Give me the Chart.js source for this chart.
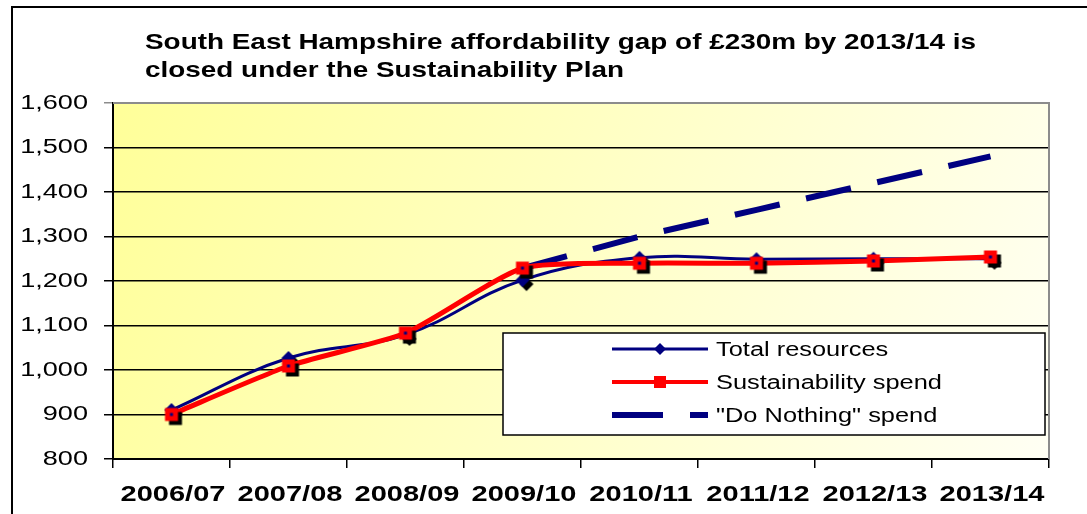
<!DOCTYPE html>
<html>
<head>
<meta charset="utf-8">
<script src="https://cdn.jsdelivr.net/npm/chart.js@4/dist/chart.umd.min.js"></script>
<style>
  html, body { margin: 0; padding: 0; background: #fff; }
  #wrap { width: 1087px; height: 514px; }
</style>
</head>
<body>
<div id="wrap"><canvas id="chart" width="1087" height="514"></canvas></div>
<script>
const years = ['2006/07', '2007/08', '2008/09', '2009/10', '2010/11', '2011/12', '2012/13', '2013/14'];
const totalResources = [910, 1027, 1079, 1202, 1252, 1249, 1250, 1250];
const sustainabilitySpend = [900, 1009, 1083, 1229, 1240, 1240, 1245, 1254];
const doNothingSpend = [null, null, null, 1229, 1300, 1360, 1420, 1480];
const yTicks = [800, 900, 1000, 1100, 1200, 1300, 1400, 1500, 1600];
const titleLines = [
  'South East Hampshire affordability gap of \u00a3230m by 2013/14 is',
  'closed under the Sustainability Plan'
];
const seriesNames = ['Total resources', 'Sustainability spend', '"Do Nothing" spend'];

const NAVY = '#000080';
const RED = '#ff0000';
const FONT = '"Liberation Sans", Arial, sans-serif';

// the original text is drawn wide, so the font gets stretched sideways
function wideText(ctx, text, x, y, sx, align) {
  ctx.save();
  ctx.translate(x, y);
  ctx.scale(sx, 1);
  ctx.textAlign = align;
  ctx.fillText(text, 0, 0);
  ctx.restore();
}

// marker pictures with the Excel-style drop shadow baked in
function marker(kind) {
  const c = document.createElement('canvas');
  c.width = 32; c.height = 32;
  const g = c.getContext('2d');
  const shape = (cx, cy, fill) => {
    g.fillStyle = fill;
    g.beginPath();
    if (kind === 'diamond') {
      g.moveTo(cx, cy - 7); g.lineTo(cx + 7, cy); g.lineTo(cx, cy + 7); g.lineTo(cx - 7, cy);
    } else {
      g.rect(cx - 6.5, cy - 6.5, 13, 13);
    }
    g.closePath();
    g.fill();
  };
  shape(20, 20, '#000');
  shape(16, 16, kind === 'diamond' ? NAVY : RED);
  if (kind === 'square') {
    g.fillStyle = NAVY;
    g.fillRect(14.5, 14.5, 3, 3);
  }
  return c;
}
const diamondImg = marker('diamond');
const squareImg = marker('square');

const decorPlugin = {
  id: 'decor',
  beforeDraw(chart) {
    const { ctx, chartArea: a } = chart;
    ctx.save();
    ctx.fillStyle = '#fff';
    ctx.fillRect(0, 0, chart.width, chart.height);
    const grad = ctx.createLinearGradient(a.left, a.top, a.right, a.bottom);
    grad.addColorStop(0, '#ffff99');
    grad.addColorStop(1, '#fffff4');
    ctx.fillStyle = grad;
    ctx.fillRect(a.left, a.top, a.right - a.left, a.bottom - a.top);
    // outer frame
    ctx.strokeStyle = '#000';
    ctx.lineWidth = 2;
    ctx.beginPath();
    ctx.moveTo(1087, 7);
    ctx.lineTo(12, 7);
    ctx.lineTo(12, 514);
    ctx.stroke();
    // title
    ctx.fillStyle = '#000';
    ctx.font = 'bold 22px ' + FONT;
    ctx.textBaseline = 'alphabetic';
    titleLines.forEach((t, i) => wideText(ctx, t, 145, 49 + i * 28, 1.268, 'left'));
    ctx.restore();
  },
  beforeDatasetsDraw(chart) {
    const { ctx, chartArea: a } = chart;
    ctx.save();
    ctx.strokeStyle = '#8c8c8c';
    ctx.lineWidth = 2;
    ctx.beginPath();
    ctx.moveTo(a.left, a.top);
    ctx.lineTo(a.right, a.top);
    ctx.lineTo(a.right, a.bottom);
    ctx.stroke();
    ctx.restore();
  },
  afterDraw(chart) {
    const { ctx } = chart;
    const xs = chart.scales.x, ys = chart.scales.y;
    ctx.save();
    ctx.fillStyle = '#000';
    ctx.textBaseline = 'middle';
    // axis labels, placed on the library's own tick positions
    ctx.font = '19.5px ' + FONT;
    ys.ticks.forEach((t, i) => wideText(ctx, t.label, 88, ys.getPixelForTick(i) + 0.5, 1.39, 'right'));
    ctx.font = 'bold 21.5px ' + FONT;
    xs.ticks.forEach((t, i) => wideText(ctx, t.label, xs.getPixelForTick(i) + 1.5, 495, 1.35, 'center'));

    // legend
    const box = { x: 503, y: 333, w: 542, h: 102 };
    ctx.fillStyle = '#fff';
    ctx.fillRect(box.x, box.y, box.w, box.h);
    ctx.strokeStyle = '#000';
    ctx.lineWidth = 1.5;
    ctx.strokeRect(box.x, box.y, box.w, box.h);
    const rows = [349, 382, 415];
    const x0 = 612, x1 = 708;
    ctx.strokeStyle = NAVY; ctx.lineWidth = 3;
    ctx.beginPath(); ctx.moveTo(x0, rows[0]); ctx.lineTo(x1, rows[0]); ctx.stroke();
    ctx.fillStyle = NAVY;
    ctx.beginPath();
    ctx.moveTo(660, rows[0] - 6); ctx.lineTo(666, rows[0]); ctx.lineTo(660, rows[0] + 6); ctx.lineTo(654, rows[0]);
    ctx.closePath(); ctx.fill();
    ctx.strokeStyle = RED; ctx.lineWidth = 4;
    ctx.beginPath(); ctx.moveTo(x0, rows[1]); ctx.lineTo(x1, rows[1]); ctx.stroke();
    ctx.fillStyle = RED;
    ctx.fillRect(654, rows[1] - 6, 12, 12);
    ctx.strokeStyle = NAVY; ctx.lineWidth = 6;
    ctx.beginPath();
    ctx.moveTo(x0, rows[2]); ctx.lineTo(663, rows[2]);
    ctx.moveTo(690, rows[2]); ctx.lineTo(x1, rows[2]);
    ctx.stroke();
    ctx.fillStyle = '#000';
    ctx.font = '20px ' + FONT;
    seriesNames.forEach((n, i) => wideText(ctx, n, 716, rows[i] + 1, 1.27, 'left'));
    ctx.restore();
  }
};

new Chart(document.getElementById('chart'), {
  type: 'line',
  data: {
    labels: years,
    datasets: [
      {
        label: seriesNames[0],
        data: totalResources,
        borderColor: NAVY,
        borderWidth: 3,
        tension: 0.4,
        pointStyle: diamondImg,
        order: 1
      },
      {
        label: seriesNames[1],
        data: sustainabilitySpend,
        borderColor: RED,
        borderWidth: 5,
        tension: 0.2,
        pointStyle: squareImg,
        order: 0
      },
      {
        label: seriesNames[2],
        data: doNothingSpend,
        borderColor: NAVY,
        borderWidth: 6,
        borderDash: [46, 27],
        borderCapStyle: 'butt',
        tension: 0,
        pointRadius: 0,
        order: 2
      }
    ]
  },
  plugins: [decorPlugin],
  options: {
    responsive: false,
    animation: false,
    devicePixelRatio: 1,
    layout: { padding: { top: 103, right: 38, bottom: 0, left: 0 } },
    plugins: { legend: { display: false }, title: { display: false }, tooltip: { enabled: false } },
    scales: {
      x: {
        offset: true,
        afterFit(s) { s.height = 55; },
        grid: { offset: true, drawOnChartArea: false, drawTicks: true, tickLength: 9, color: '#000', lineWidth: 1.5 },
        border: { color: '#000', width: 2 },
        ticks: { color: 'rgba(0,0,0,0)', font: { family: FONT, size: 19, weight: 'bold' }, padding: 12, maxRotation: 0, autoSkip: false }
      },
      y: {
        min: yTicks[0],
        max: yTicks[yTicks.length - 1],
        afterFit(s) { s.width = 113; },
        afterBuildTicks(s) { s.ticks = yTicks.map(v => ({ value: v })); },
        grid: {
          color: c => (c.tick && c.tick.value === yTicks[yTicks.length - 1]) ? '#8c8c8c' : '#000',
          lineWidth: 1.5,
          tickLength: 9
        },
        border: { color: '#000', width: 2 },
        ticks: {
          color: 'rgba(0,0,0,0)',
          padding: 16,
          font: { family: FONT, size: 19 },
          callback: v => v.toLocaleString('en-GB')
        }
      }
    }
  }
});
</script>
</body>
</html>
